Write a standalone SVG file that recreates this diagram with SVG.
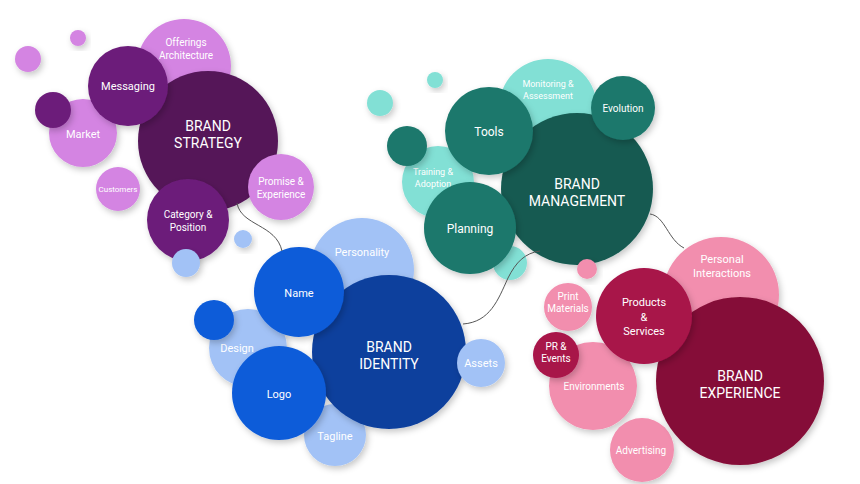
<svg xmlns="http://www.w3.org/2000/svg" width="860" height="484" viewBox="0 0 860 484">
<defs>
<filter id="sh" x="-30%" y="-30%" width="160%" height="160%">
<feDropShadow dx="2" dy="3" stdDeviation="3" flood-color="#000" flood-opacity="0.22"/>
</filter>
<style>
circle{filter:url(#sh)}
text{font-family:Roboto,"Liberation Sans",sans-serif;fill:#fff;text-anchor:middle;dominant-baseline:central}
.big{font-size:14px}
.m{font-size:11px}
.s{font-size:10px}
.xs{font-size:9px}
.p1{fill:#d484e2}.p2{fill:#6c1c7a}.p3{fill:#541559}
.t1{fill:#82e0d5}.t2{fill:#1b786c}.t3{fill:#145a51}
.b1{fill:#a2c2f6}.b2{fill:#0c5cd9}.b3{fill:#0a3f9d}
.r1{fill:#f28eae}.r2{fill:#a8134a}.r3{fill:#850e37}
.conn{fill:none;stroke:#555;stroke-width:1}
</style>
</defs>
<rect width="860" height="484" fill="#fff"/>

<!-- Strategy cluster -->
<g id="strategy-deco">
<circle class="p1" cx="78" cy="38" r="8"/>
<circle class="p1" cx="28" cy="59" r="13"/>
</g>
<g id="offerings"><circle class="p1" cx="184" cy="66" r="47"/><text class="s" x="186" y="42">Offerings</text><text class="s" x="186" y="55">Architecture</text></g>
<g id="market"><circle class="p1" cx="83" cy="133" r="34"/><text class="m" x="83" y="134">Market</text></g>
<g id="market-dot"><circle class="p2" cx="53" cy="110" r="18"/></g>
<g id="customers"><circle class="p1" cx="118" cy="189" r="22"/><text style="font-size:8px" x="118" y="189">Customers</text></g>
<g id="brand-strategy"><circle class="p3" cx="208" cy="141" r="70"/><text class="big" x="208" y="126">BRAND</text><text class="big" x="208" y="143">STRATEGY</text></g>
<g id="messaging"><circle class="p2" cx="128" cy="86" r="40"/><text class="m" x="128" y="86">Messaging</text></g>
<g id="promise"><circle class="p1" cx="281" cy="187" r="33"/><text class="s" x="281" y="181">Promise &amp;</text><text class="s" x="281" y="194">Experience</text></g>
<g id="category"><circle class="p2" cx="188" cy="220" r="41"/><text class="s" x="188" y="214">Category &amp;</text><text class="s" x="188" y="227">Position</text></g>
<g id="strategy-blue-dots">
<circle class="b1" cx="186" cy="263" r="14"/>
<circle class="b1" cx="243" cy="239" r="9"/>
</g>

<!-- Management cluster -->
<g id="mgmt-deco">
<circle class="t1" cx="435" cy="80" r="8"/>
<circle class="t1" cx="380" cy="103" r="13"/>
<circle class="t1" cx="510" cy="263" r="17"/>
</g>
<g id="monitoring"><circle class="t1" cx="548" cy="108" r="49"/><text class="xs" x="548" y="84">Monitoring &amp;</text><text class="xs" x="548" y="96">Assessment</text></g>
<g id="training"><circle class="t1" cx="438" cy="182" r="36"/><text class="xs" x="433" y="172">Training &amp;</text><text class="xs" x="433" y="184">Adoption</text></g>
<g id="brand-management"><circle class="t3" cx="577" cy="189" r="76"/><text class="big" x="577" y="184">BRAND</text><text class="big" x="577" y="201">MANAGEMENT</text></g>
<g id="evolution"><circle class="t2" cx="623" cy="108" r="32"/><text class="s" x="623" y="108">Evolution</text></g>
<g id="tools"><circle class="t2" cx="489" cy="131" r="44"/><text style="font-size:12px" x="489" y="132">Tools</text></g>
<g id="training-dot"><circle class="t2" cx="407" cy="146" r="20"/></g>
<g id="planning"><circle class="t2" cx="470" cy="228" r="46"/><text style="font-size:12px" x="470" y="229">Planning</text></g>

<!-- Identity cluster -->
<g id="personality"><circle class="b1" cx="362" cy="270" r="52"/><text class="m" x="362" y="252">Personality</text></g>
<g id="tagline"><circle class="b1" cx="335" cy="435" r="31"/><text class="m" x="335" y="436">Tagline</text></g>
<g id="design"><circle class="b1" cx="248" cy="348" r="39"/><text class="m" x="237" y="348">Design</text></g>
<g id="design-dot"><circle class="b2" cx="214" cy="320" r="20"/></g>
<g id="brand-identity"><circle class="b3" cx="389" cy="352" r="77"/><text class="big" x="389" y="347">BRAND</text><text class="big" x="389" y="364">IDENTITY</text></g>
<g id="name"><circle class="b2" cx="299" cy="292" r="45"/><text class="m" x="299" y="293">Name</text></g>
<g id="logo"><circle class="b2" cx="279" cy="393" r="47"/><text class="m" x="279" y="394">Logo</text></g>
<g id="assets"><circle class="b1" cx="481" cy="363" r="24"/><text class="m" x="481" y="363">Assets</text></g>

<!-- Experience cluster -->
<g id="exp-deco"><circle class="r1" cx="587" cy="269" r="10"/></g>
<g id="personal"><circle class="r1" cx="721" cy="295" r="58"/><text class="m" x="722" y="259">Personal</text><text class="m" x="722" y="273">Interactions</text></g>
<g id="print"><circle class="r1" cx="568" cy="307" r="24"/><text class="s" x="568" y="296">Print</text><text class="s" x="568" y="308">Materials</text></g>
<g id="environments"><circle class="r1" cx="593" cy="386" r="44"/><text class="s" x="594" y="386">Environments</text></g>
<g id="pr-events"><circle class="r2" cx="556" cy="355" r="23"/><text class="s" x="556" y="346">PR &amp;</text><text class="s" x="556" y="358">Events</text></g>
<g id="advertising"><circle class="r1" cx="642" cy="450" r="32"/><text class="s" x="641" y="450">Advertising</text></g>
<g id="brand-experience"><circle class="r3" cx="740" cy="381" r="84"/><text class="big" x="740" y="376">BRAND</text><text class="big" x="740" y="393">EXPERIENCE</text></g>
<g id="products"><circle class="r2" cx="644" cy="316" r="48"/><text class="m" x="644" y="302">Products</text><text class="m" x="644" y="317">&amp;</text><text class="m" x="644" y="331">Services</text></g>

<!-- Connectors -->
<g id="connectors">
<path class="conn" d="M237,203 C241,226 276,224 282,251"/>
<path class="conn" d="M463,324 C490,322 498,300 508,278 C516,262 525,253 540,251"/>
<path class="conn" d="M650,214 C665,216 668,240 684,248"/>
</g>
</svg>
